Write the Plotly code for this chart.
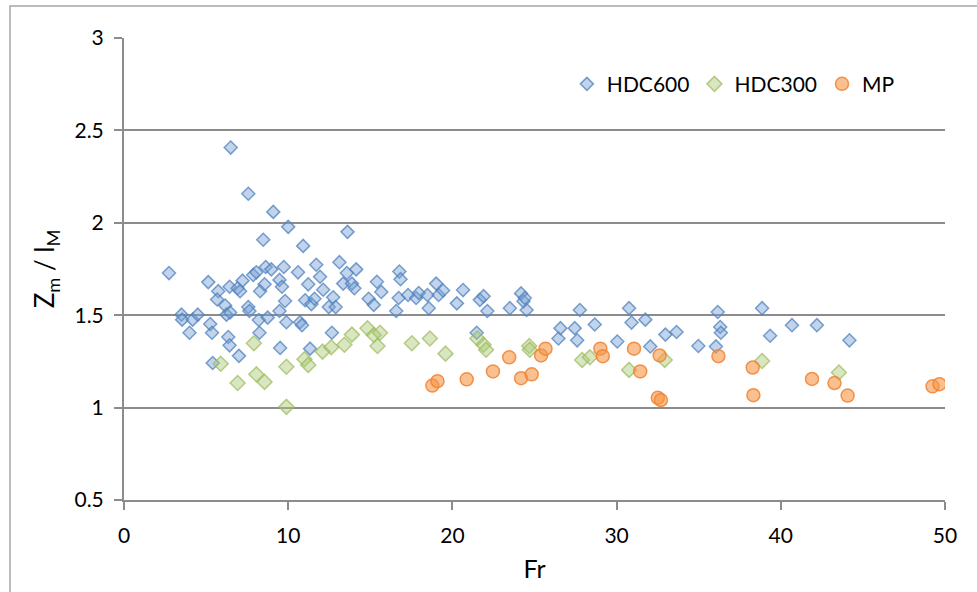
import plotly.graph_objects as go

hdc600_x = [2.74, 3.5, 3.54, 3.99, 4.18, 4.49, 5.13, 5.25, 5.36, 5.4, 5.74, 5.67, 6.16, 6.24, 6.35, 6.43, 6.43, 6.5,
            6.46, 6.92, 7.07, 7.0, 7.22, 7.57, 7.57, 7.64, 7.87, 8.06, 8.21, 8.25, 8.29, 8.48, 8.56, 8.63, 8.75,
            8.97, 9.09, 9.47, 9.47, 9.51, 9.62, 9.73, 9.81, 9.89, 10.0, 10.6, 10.72, 10.84, 10.91, 11.03, 11.22,
            11.33, 11.41, 11.6, 11.71, 11.94, 12.13, 12.47, 12.66, 12.74, 12.89, 13.12, 13.35, 13.57, 13.61,
            13.88, 14.03, 14.14, 14.9, 15.21, 15.4, 15.67, 16.58, 16.73, 16.77, 16.84, 17.3, 17.79, 17.95,
            18.48, 18.56, 19.01, 19.16, 19.43, 20.27, 20.65, 21.48, 21.67, 21.9, 22.13, 23.5, 24.18, 24.33,
            24.41, 24.52, 26.46, 26.58, 27.45, 27.6, 27.76, 28.67, 30.04, 30.76, 30.91, 31.75, 32.05, 32.97,
            33.65, 34.98, 36.05, 36.16, 36.31, 36.35, 38.86, 39.35, 40.68, 42.2, 44.18]
hdc600_y = [1.728, 1.503, 1.476, 1.405, 1.476, 1.503, 1.679, 1.452, 1.405, 1.241, 1.63, 1.585, 1.552, 1.503,
            1.382, 1.337, 1.654, 2.407, 1.515, 1.646, 1.63, 1.28, 1.687, 2.157, 1.544, 1.523, 1.718, 1.732,
            1.474, 1.405, 1.63, 1.908, 1.667, 1.761, 1.487, 1.748, 2.059, 1.691, 1.523, 1.323, 1.654, 1.761,
            1.577, 1.462, 1.978, 1.732, 1.462, 1.446, 1.875, 1.581, 1.667, 1.319, 1.56, 1.589, 1.773, 1.708,
            1.638, 1.544, 1.405, 1.597, 1.544, 1.787, 1.671, 1.728, 1.951, 1.671, 1.646, 1.748, 1.589, 1.556,
            1.681, 1.626, 1.523, 1.593, 1.736, 1.695, 1.609, 1.593, 1.62, 1.609, 1.538, 1.671, 1.609, 1.634,
            1.564, 1.636, 1.405, 1.583, 1.603, 1.523, 1.538, 1.618, 1.575, 1.593, 1.528, 1.374, 1.43, 1.43,
            1.364, 1.528, 1.45, 1.358, 1.538, 1.46, 1.476, 1.331, 1.395, 1.409, 1.333, 1.331, 1.517, 1.436,
            1.405, 1.538, 1.389, 1.446, 1.446, 1.364]

hdc300_x = [5.89, 6.92, 7.91, 8.06, 8.56, 9.89, 9.89, 10.99, 11.22, 12.09, 12.62, 13.42, 13.88, 14.83, 15.21,
            15.44, 15.59, 17.53, 18.63, 19.58, 21.52, 21.9, 22.05, 24.68, 24.71, 27.9, 28.37, 30.76, 32.93,
            38.86, 43.54]
hdc300_y = [1.237, 1.133, 1.348, 1.18, 1.139, 1.004, 1.221, 1.262, 1.231, 1.303, 1.327, 1.34, 1.395, 1.429,
            1.393, 1.333, 1.405, 1.348, 1.374, 1.292, 1.374, 1.34, 1.313, 1.333, 1.313, 1.258, 1.272, 1.204,
            1.258, 1.252, 1.19]

mp_x = [18.78, 19.09, 20.87, 22.47, 23.46, 24.18, 24.83, 25.4, 25.67, 29.01, 29.16, 31.06, 31.44, 32.51,
        32.7, 32.62, 36.2, 38.29, 38.33, 41.9, 43.27, 44.07, 49.24, 49.66]
mp_y = [1.119, 1.143, 1.153, 1.196, 1.272, 1.159, 1.18, 1.282, 1.319, 1.319, 1.278, 1.319, 1.196, 1.053,
        1.041, 1.282, 1.278, 1.217, 1.067, 1.155, 1.133, 1.065, 1.115, 1.127]

x_ticks = [0, 10, 20, 30, 40, 50]
y_ticks = [0.5, 1, 1.5, 2, 2.5, 3]

FONT = "Lato"

fig = go.Figure()
fig.add_trace(go.Scatter(
    x=hdc600_x, y=hdc600_y, mode="markers", name="HDC600",
    marker=dict(symbol="diamond", size=10, color="rgba(120,160,210,0.45)",
                line=dict(color="rgba(79,129,189,0.75)", width=1.5))))
fig.add_trace(go.Scatter(
    x=hdc300_x, y=hdc300_y, mode="markers", name="HDC300",
    marker=dict(symbol="diamond", size=11.5, color="rgba(170,200,120,0.45)",
                line=dict(color="rgba(155,187,89,0.7)", width=1.5))))
fig.add_trace(go.Scatter(
    x=mp_x, y=mp_y, mode="markers", name="MP",
    marker=dict(symbol="circle", size=13, color="rgba(247,150,70,0.6)",
                line=dict(color="rgba(240,130,50,0.85)", width=1.5))))

fig.update_layout(
    width=977, height=592,
    margin=dict(l=124, r=32, t=38, b=92),
    paper_bgcolor="white", plot_bgcolor="white",
    font=dict(family=FONT, color="black", size=21),
    showlegend=True,
    legend=dict(orientation="h", x=0.945, xanchor="right", y=0.9, yanchor="middle",
                font=dict(family=FONT, size=21), bgcolor="rgba(0,0,0,0)",
                itemsizing="trace"),
    xaxis=dict(range=[0, 50], tickvals=x_ticks, showgrid=False, zeroline=False,
               showline=True, linecolor="#8c8c8c", linewidth=2,
               ticks="outside", ticklen=8, tickcolor="#8c8c8c", tickwidth=2,
               tickfont=dict(family=FONT, size=21), ticklabelstandoff=8,
               title=dict(text="Fr", font=dict(family=FONT, size=25), standoff=14)),
    yaxis=dict(range=[0.5, 3], tickvals=y_ticks, showgrid=True, gridcolor="#8c8c8c", gridwidth=2,
               zeroline=False, showline=True, linecolor="#8c8c8c", linewidth=2,
               ticks="outside", ticklen=8, tickcolor="#8c8c8c", tickwidth=2,
               tickfont=dict(family=FONT, size=21), ticklabelstandoff=6,
               title=dict(text="Z<sub>m</sub> / l<sub>M</sub>", font=dict(family=FONT, size=26), standoff=12)),
)

# outer chart border (left and top visible)
fig.add_shape(type="rect", xref="paper", yref="paper",
              x0=(10 - 124) / 821, x1=(990 - 124) / 821,
              y0=(500 - 600) / 462, y1=(500 - 6) / 462,
              line=dict(color="#a6a6a6", width=1.5), layer="below")

fig.write_html("out.html")
